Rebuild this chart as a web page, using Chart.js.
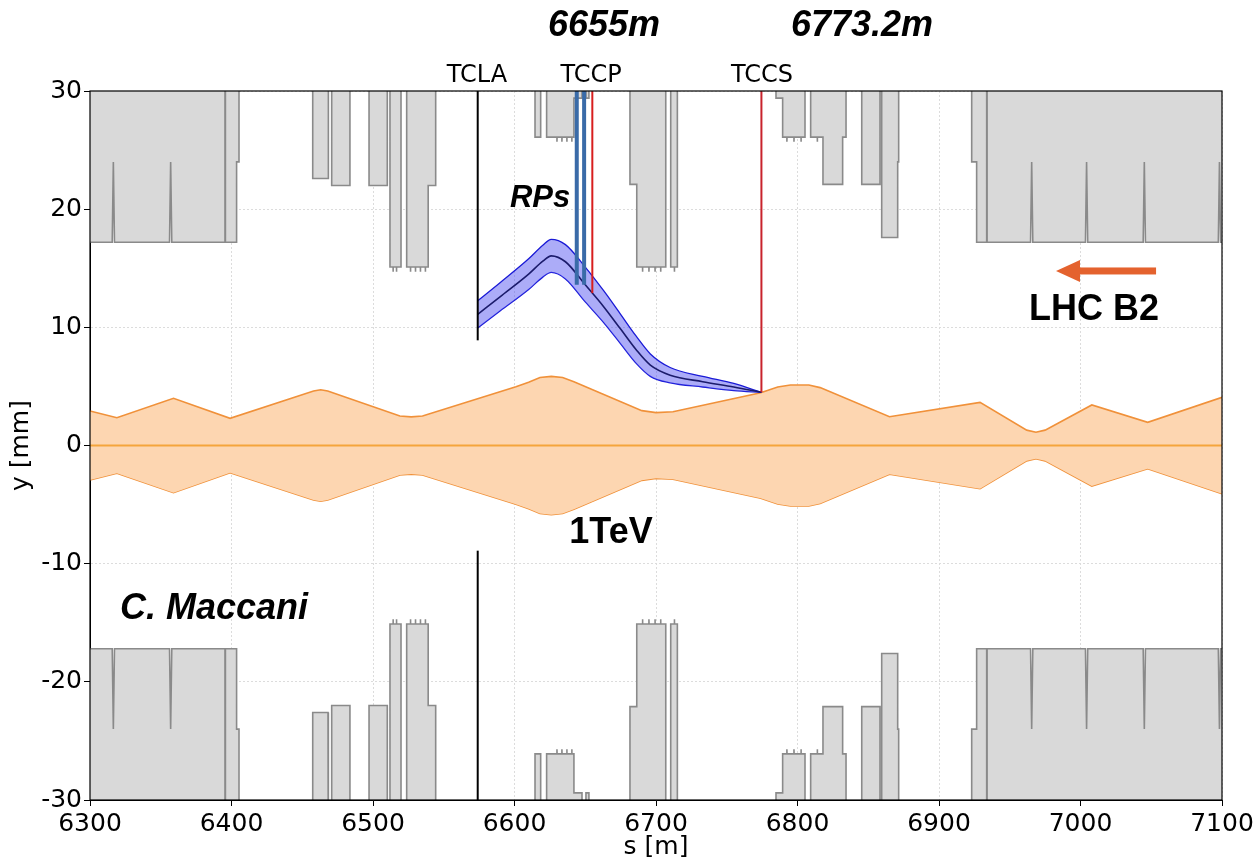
<!DOCTYPE html>
<html>
<head>
<meta charset="utf-8">
<script src="https://cdn.jsdelivr.net/npm/chart.js@4.4.1/dist/chart.umd.min.js"></script>
<style>
  html, body { margin: 0; padding: 0; background: #fff; }
  #wrap { width: 1257px; height: 861px; }
</style>
</head>
<body>
<div id="wrap"><canvas id="apChart" width="1257" height="861"></canvas></div>
<script>
// mechanical aperture (upper half, mm); 40 = open / outside the view
const apertureS = [
  6300, 6315.7, 6316.5, 6317.3, 6356.2, 6357.0, 6357.8, 6395.4, 6395.4, 6395.7, 6395.7, 6403.6, 6403.6, 6405.3, 6405.3,
  6457.4, 6457.4, 6468.2, 6468.2, 6468.6, 6468.6, 6470.8, 6470.8, 6483.7, 6483.7, 6497.2, 6497.2, 6510.1, 6510.1,
  6512.0, 6512.0, 6514.2, 6514.2, 6514.3, 6516.6, 6516.6, 6516.7, 6519.8, 6519.8,
  6523.8, 6523.8, 6526.5, 6526.5, 6526.6, 6530.0, 6530.0, 6530.1, 6533.5, 6533.5, 6533.6, 6537.0, 6537.0, 6537.1, 6539.0, 6539.0, 6544.3, 6544.3,
  6614.5, 6614.5, 6618.5, 6618.5, 6622.7, 6622.7, 6630.0, 6630.0, 6630.1, 6633.5, 6633.5, 6633.6, 6637.0, 6637.0, 6637.1, 6640.5, 6640.5, 6640.6, 6642.0, 6642.0, 6647.7, 6647.7, 6650.5, 6650.5, 6652.6, 6652.6,
  6681.6, 6681.6, 6686.4, 6686.4, 6690.5, 6690.5, 6690.6, 6695.0, 6695.0, 6695.1, 6699.3, 6699.3, 6699.4, 6703.3, 6703.3, 6703.4, 6706.9, 6706.9,
  6710.4, 6710.4, 6713.0, 6713.0, 6713.1, 6715.1, 6715.1,
  6784.8, 6784.8, 6789.5, 6789.5, 6792.5, 6792.5, 6792.6, 6797.5, 6797.5, 6797.6, 6802.5, 6802.5, 6802.6, 6805.3, 6805.3,
  6809.3, 6809.3, 6814.0, 6814.0, 6814.1, 6818.0, 6818.0, 6831.9, 6831.9, 6834.3, 6834.3,
  6845.4, 6845.4, 6858.3, 6858.3, 6859.5, 6859.5, 6870.8, 6870.8, 6871.5, 6871.5,
  6923.1, 6923.1, 6926.6, 6926.6, 6933.7, 6933.7, 6934.0, 6934.0, 6964.7, 6965.5, 6966.3, 7003.5, 7004.3, 7005.1, 7044.3, 7045.1, 7045.9, 7097.4, 7098.2, 7099.0, 7100
];
const apertureY = [
  17.2, 17.2, 24.0, 17.2, 17.2, 24.0, 17.2, 17.2, 40, 40, 17.2, 17.2, 24.0, 24.0, 40,
  40, 22.6, 22.6, 24.0, 24.0, 40, 40, 22.0, 22.0, 40, 40, 22.0, 22.0, 40,
  40, 15.1, 15.1, 14.7, 15.1, 15.1, 14.7, 15.1, 15.1, 40,
  40, 15.1, 15.1, 14.7, 15.1, 15.1, 14.7, 15.1, 15.1, 14.7, 15.1, 15.1, 14.7, 15.1, 15.1, 22.0, 22.0, 40,
  40, 26.1, 26.1, 40, 40, 26.1, 26.1, 25.7, 26.1, 26.1, 25.7, 26.1, 26.1, 25.7, 26.1, 26.1, 25.7, 26.1, 26.1, 29.4, 29.4, 40, 40, 29.4, 29.4, 40,
  40, 22.1, 22.1, 15.1, 15.1, 14.7, 15.1, 15.1, 14.7, 15.1, 15.1, 14.7, 15.1, 15.1, 14.7, 15.1, 15.1, 40,
  40, 15.1, 15.1, 14.7, 15.1, 15.1, 40,
  40, 29.4, 29.4, 26.1, 26.1, 25.7, 26.1, 26.1, 25.7, 26.1, 26.1, 25.7, 26.1, 26.1, 40,
  40, 26.1, 26.1, 25.7, 26.1, 26.1, 22.1, 22.1, 26.1, 26.1, 40,
  40, 22.1, 22.1, 40, 40, 17.6, 17.6, 24.0, 24.0, 40,
  40, 24.0, 24.0, 17.2, 17.2, 40, 40, 17.2, 17.2, 24.0, 17.2, 17.2, 24.0, 17.2, 17.2, 24.0, 17.2, 17.2, 24.0, 17.2, 17.2
];

// 1 TeV beam envelope (half size, mm) and closed orbit
const beamS = [6300, 6319, 6359, 6399, 6458, 6463, 6468, 6519, 6527, 6535, 6601, 6610, 6618, 6626, 6634, 6642,
  6690, 6700, 6712, 6774, 6786, 6795, 6808, 6816, 6865, 6929, 6962, 6968.5, 6975, 7008, 7047.5, 7100];
const beamY = [2.92, 2.35, 4.0, 2.3, 4.62, 4.72, 4.62, 2.5, 2.42, 2.5, 4.98, 5.35, 5.75, 5.85, 5.75, 5.4,
  2.95, 2.78, 2.85, 4.47, 4.95, 5.12, 5.12, 4.9, 2.44, 3.65, 1.3, 1.12, 1.3, 3.43, 1.96, 4.08];
const orbitS = [6300, 7100];
const orbitY = [0, 0];

// channelled halo between TCLA and TCCS
const bandS = [6574, 6590, 6610, 6620, 6626, 6636, 6650, 6663, 6675, 6686, 6696, 6710, 6733, 6755, 6774.5];
const bandMid = [11.1, 12.6, 14.5, 15.6, 16.05, 15.55, 13.6, 11.75, 9.85, 8.1, 6.8, 5.95, 5.4, 4.95, 4.5];
const bandUp = [12.25, 13.8, 15.8, 16.95, 17.45, 17.0, 15.1, 13.1, 11.1, 9.25, 7.75, 6.6, 5.85, 5.25, 4.5];
const bandLow = [9.95, 11.4, 13.2, 14.25, 14.65, 14.1, 12.15, 10.4, 8.6, 6.95, 5.85, 5.3, 4.95, 4.65, 4.5];

// collimators and roman pots: position and jaw (mm)
const tclaS = 6574, tclaJaw = 8.9;
const rpS = [6644.0, 6649.2], rpJaw = 13.6;
const tccpS = 6655, tccpJaw = 12.9;
const tccsS = 6774.5, tccsJaw = 4.5;

const notes = [
  { text: '6655m', s: 6663.3, y: 34.65, font: 'italic bold 36px "Liberation Sans"', align: 'center' },
  { text: '6773.2m', s: 6845.6, y: 34.65, font: 'italic bold 36px "Liberation Sans"', align: 'center' },
  { text: 'TCLA', s: 6573.5, y: 30.76, font: '24px "DejaVu Sans"', align: 'center' },
  { text: 'TCCP', s: 6654.1, y: 30.76, font: '24px "DejaVu Sans"', align: 'center' },
  { text: 'TCCS', s: 6774.9, y: 30.76, font: '24px "DejaVu Sans"', align: 'center' },
  { text: 'RPs', s: 6596.8, y: 20.18, font: 'italic bold 31px "Liberation Sans"', align: 'left' },
  { text: 'LHC B2', s: 7009.5, y: 10.62, font: 'bold 36px "Liberation Sans"', align: 'center' },
  { text: '1TeV', s: 6668.2, y: -8.25, font: 'bold 36px "Liberation Sans"', align: 'center' },
  { text: 'C. Maccani', s: 6321.2, y: -14.68, font: 'italic bold 36px "Liberation Sans"', align: 'left' }
];
const arrow = { from: 7053.4, to: 6982.7, y: 14.77 };

const pts = (xs, ys, sign) => xs.map((s, i) => ({ x: s, y: (sign || 1) * ys[i] }));
const vline = (s, y0, y1) => [{ x: s, y: y0 }, { x: s, y: y1 }];

const overlay = {
  id: 'overlay',
  afterDatasetsDraw(chart) {
    const { ctx, chartArea: a, scales: { x, y } } = chart;
    ctx.save();
    ctx.strokeStyle = '#000';
    ctx.lineWidth = 1.2;
    ctx.strokeRect(a.left, a.top, a.right - a.left, a.bottom - a.top);

    // beam direction arrow
    const x0 = x.getPixelForValue(arrow.from), x1 = x.getPixelForValue(arrow.to);
    const ay = y.getPixelForValue(arrow.y);
    ctx.fillStyle = '#e4622e';
    ctx.fillRect(x1 + 20, ay - 3.5, x0 - x1 - 20, 7);
    ctx.beginPath();
    ctx.moveTo(x1, ay);
    ctx.lineTo(x1 + 24, ay - 11);
    ctx.lineTo(x1 + 24, ay + 11);
    ctx.closePath();
    ctx.fill();

    ctx.fillStyle = '#000';
    ctx.textBaseline = 'alphabetic';
    notes.forEach(n => {
      ctx.font = n.font;
      ctx.textAlign = n.align;
      ctx.fillText(n.text, x.getPixelForValue(n.s), y.getPixelForValue(n.y));
    });
    ctx.restore();
  }
};

const gray = { borderColor: '#8a8a8a', backgroundColor: '#d9d9d9', borderWidth: 1.6, order: 10 };
const orange = { borderColor: '#f0913a', backgroundColor: '#fdd6b1', borderWidth: 1.6, order: 8 };
const blue = { borderColor: '#1a1ad6', backgroundColor: 'rgba(70,70,240,0.45)', borderWidth: 1.3, order: 5,
  cubicInterpolationMode: 'monotone' };

new Chart(document.getElementById('apChart').getContext('2d'), {
  type: 'line',
  data: {
    datasets: [
      { ...gray, data: pts(apertureS, apertureY), fill: 'end' },
      { ...gray, data: pts(apertureS, apertureY, -1), fill: 'start' },
      { ...orange, data: pts(beamS, beamY), fill: '+1' },
      { ...orange, data: pts(beamS, beamY, -1), fill: false },
      { data: pts(orbitS, orbitY), borderColor: '#f5a53c', borderWidth: 2, fill: false, order: 7 },
      { ...blue, data: pts(bandS, bandUp), fill: '+1' },
      { ...blue, data: pts(bandS, bandLow), fill: false },
      { data: pts(bandS, bandMid), borderColor: '#1b1b6b', borderWidth: 1.6, fill: false, order: 4,
        cubicInterpolationMode: 'monotone' },
      { data: vline(tclaS, tclaJaw, 30), borderColor: '#000', borderWidth: 2, fill: false, order: 1 },
      { data: vline(tclaS, -30, -tclaJaw), borderColor: '#000', borderWidth: 2, fill: false, order: 1 },
      { data: vline(rpS[0], rpJaw, 30), borderColor: '#3a6ba8', borderWidth: 4, fill: false, order: 1 },
      { data: vline(rpS[1], rpJaw, 30), borderColor: '#3a6ba8', borderWidth: 4, fill: false, order: 1 },
      { data: vline(tccpS, tccpJaw, 30), borderColor: '#d81e1e', borderWidth: 2, fill: false, order: 1 },
      { data: vline(tccsS, tccsJaw, 30), borderColor: '#c8232c', borderWidth: 2, fill: false, order: 1 }
    ]
  },
  options: {
    responsive: false,
    devicePixelRatio: 1,
    animation: false,
    layout: { padding: { top: 91, right: 35, left: 0, bottom: 0 } },
    elements: { point: { radius: 0, hoverRadius: 0 }, line: { tension: 0 } },
    plugins: { legend: { display: false }, tooltip: { enabled: false } },
    scales: {
      x: {
        type: 'linear', min: 6300, max: 7100,
        ticks: { stepSize: 100, color: '#000', padding: 3, maxRotation: 0,
          font: { family: 'DejaVu Sans', size: 25 }, callback: v => String(v) },
        grid: { color: '#dcdcdc', tickColor: '#000', tickLength: 6 },
        border: { display: true, color: '#000', width: 1, dash: [2, 2] },
        title: { display: true, text: 's [m]', color: '#000',
          font: { family: 'DejaVu Sans', size: 25, lineHeight: 1 }, padding: { top: 0, bottom: 1 } },
        afterFit(scale) { scale.height = 61; }
      },
      y: {
        min: -30, max: 30,
        ticks: { stepSize: 10, color: '#000', padding: 2,
          font: { family: 'DejaVu Sans', size: 25 }, callback: v => String(v) },
        grid: { color: '#dcdcdc', tickColor: '#000', tickLength: 6 },
        border: { display: true, color: '#000', width: 1, dash: [2, 2] },
        title: { display: true, text: 'y [mm]', color: '#000',
          font: { family: 'DejaVu Sans', size: 25, lineHeight: 1 }, padding: { top: 9, bottom: 0 } },
        afterFit(scale) { scale.width = 90; }
      }
    }
  },
  plugins: [overlay]
});
</script>
</body>
</html>
